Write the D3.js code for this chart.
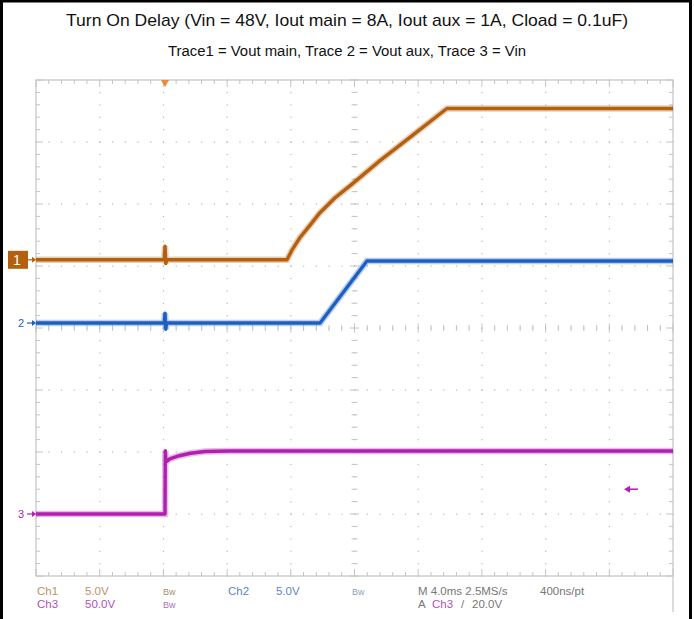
<!DOCTYPE html>
<html lang="en">
<head>
<meta charset="UTF-8">
<title>Turn On Delay</title>
<script src="https://d3js.org/d3.v7.min.js"></script>
<style>
  body { margin: 0; background: #fff; }
  svg { display: block; font-family: "Liberation Sans", Arial, sans-serif; }
  .title { fill: #111; }
  .read { font-family: "Liberation Sans Narrow", "Liberation Sans", Arial, sans-serif; font-size: 11.5px; }
</style>
</head>
<body>
<div id="chart"></div>
<script>
// scope traces as [time ms, volts]; trigger at t = 0
const ch1 = [[-8.1, 0], [-0.05, 0], [0, 1.1], [0.05, -0.3], [0.1, 0], [7.66, 0], [7.98, 0.8], [8.48, 1.8],
             [9.11, 2.8], [9.73, 3.8], [10.68, 5.0], [11.74, 6.1], [13.5, 8.0], [15.4, 9.9], [17.7, 12.2], [31.9, 12.2]];
const ch2 = [[-8.1, 0], [-0.05, 0], [0, 0.8], [0.05, -0.5], [0.1, 0], [9.74, 0], [12.68, 5.0], [31.9, 5.0]];
const ch3 = [[-8.1, 0], [-0.02, 0], [0, 0], [0.02, 51], [0.06, 42], [0.3, 44.5], [0.9, 47], [1.6, 49],
             [2.5, 50.4], [4, 50.8], [31.9, 50.8]];

// channel settings: volts/div, ground offset in divisions, colour
const channels = [
  { id: "1", data: ch1, vdiv: 5, offset: 1.1, color: "#b3600f" },
  { id: "2", data: ch2, vdiv: 5, offset: 0.08, color: "#1d5fc2" },
  { id: "3", data: ch3, vdiv: 50, offset: -3, color: "#b01fb0" }
];
const titleLines = ["Turn On Delay (Vin = 48V, Iout main = 8A, Iout aux = 1A, Cload = 0.1uF)",
                    "Trace1 = Vout main, Trace 2 = Vout aux, Trace 3 = Vin"];
const readoutRow1 = [["Ch1", "#b89464"], ["5.0V", "#b89464"], ["Bw", "#a89070"], ["Ch2", "#5b86c4"], ["5.0V", "#5b86c4"], ["Bw", "#8aa0c0"], ["M 4.0ms 2.5MS/s", "#777"], ["400ns/pt", "#777"]];
const readoutRow2 = [["Ch3", "#b050b8"], ["50.0V", "#b050b8"], ["Bw", "#b070b8"], ["A", "#777"], ["Ch3", "#b050b8"], ["/", "#777"], ["20.0V", "#777"]];
const trigLevel = 20; // volts on ch3

const W = 694, H = 619;
const gL = 36, gR = 673, gT = 80, gB = 576;
const timeDiv = 4, trigDiv = 2.025;

const x = d3.scaleLinear().domain([-trigDiv * timeDiv, (10 - trigDiv) * timeDiv]).range([gL, gR]);
const yDiv = d3.scaleLinear().domain([-4, 4]).range([gB, gT]);

const svg = d3.select("#chart").append("svg").attr("width", W).attr("height", H);

// outer frame
svg.append("rect").attr("x", 1.5).attr("y", 1).attr("width", 689).attr("height", H + 5)
  .attr("fill", "none").attr("stroke", "#000").attr("stroke-width", 3);

// titles (widths)
const titleSize = [17, 15.5], titleWidth = [562, 358];
svg.selectAll(".title").data(titleLines).join("text")
  .attr("class", "title")
  .attr("x", 347).attr("y", (d, i) => 26 + i * 30)
  .attr("text-anchor", "middle")
  .style("font-size", (d, i) => titleSize[i] + "px")
  .attr("textLength", (d, i) => titleWidth[i])
  .attr("lengthAdjust", "spacingAndGlyphs")
  .text(d => d);

// graticule
const g = svg.append("g");
const gridColor = "#c4c4c4";
const xDivs = d3.range(0, 11).map(i => x.domain()[0] + i * timeDiv);
const yDivs = d3.range(-4, 5);
const xMinor = d3.range(0, 51).map(i => x.domain()[0] + i * timeDiv / 5);
const yMinor = d3.range(0, 41).map(i => -4 + i / 5);

// dotted grid
xDivs.slice(1, -1).forEach(t => {
  g.selectAll(null).data(yMinor).join("rect")
    .attr("x", x(t) - 0.5).attr("y", d => yDiv(d) - 0.5).attr("width", 1.2).attr("height", 1.2)
    .attr("fill", "#b8b8b8");
});
yDivs.slice(1, -1).forEach(v => {
  g.selectAll(null).data(xMinor).join("rect")
    .attr("x", d => x(d) - 0.5).attr("y", yDiv(v) - 0.5).attr("width", 1.2).attr("height", 1.2)
    .attr("fill", "#b8b8b8");
});

// border and centre axes
g.append("rect").attr("x", gL).attr("y", gT).attr("width", gR - gL).attr("height", gB - gT)
  .attr("fill", "none").attr("stroke", gridColor).attr("stroke-width", 1.2);
g.append("line").attr("x1", gR).attr("x2", gR).attr("y1", gB).attr("y2", 612)
  .attr("stroke", gridColor).attr("stroke-width", 1.2);
const xc = x((x.domain()[0] + x.domain()[1]) / 2), yc = yDiv(0);

// ruler ticks on border and centre lines
const tickLen = i => (i % 5 === 0 ? 7 : 4);
xMinor.forEach((t, i) => {
  const L = tickLen(i);
  [[gT, 1], [gB, -1]].forEach(([yy, s]) => {
    g.append("line").attr("x1", x(t)).attr("x2", x(t)).attr("y1", yy).attr("y2", yy + s * L).attr("stroke", gridColor);
  });
  g.append("line").attr("x1", x(t)).attr("x2", x(t)).attr("y1", yc - L / 2 - 1).attr("y2", yc + L / 2 + 1).attr("stroke", gridColor);
});
yMinor.forEach((v, i) => {
  const L = tickLen(i);
  [[gL, 1], [gR, -1]].forEach(([xx, s]) => {
    g.append("line").attr("x1", xx).attr("x2", xx + s * L).attr("y1", yDiv(v)).attr("y2", yDiv(v)).attr("stroke", gridColor);
  });
  g.append("line").attr("x1", xc - L / 2 - 1).attr("x2", xc + L / 2 + 1).attr("y1", yDiv(v)).attr("y2", yDiv(v)).attr("stroke", gridColor);
});

// traces
channels.forEach(c => {
  const y = d => yDiv(c.offset + d[1] / c.vdiv);
  const line = d3.line().x(d => x(d[0])).y(y);
  svg.append("path").datum(c.data).attr("d", line)
    .attr("fill", "none").attr("stroke", c.color).attr("stroke-width", 6.5).attr("stroke-opacity", 0.3);
  svg.append("path").datum(c.data).attr("d", line)
    .attr("fill", "none").attr("stroke", c.color).attr("stroke-width", 3.4)
    .attr("stroke-linejoin", "round");
});

// channel ground markers
channels.forEach(c => {
  const yy = yDiv(c.offset);
  const m = svg.append("g").attr("transform", `translate(0,${yy})`);
  if (c.id === "1") {
    m.append("rect").attr("x", 8).attr("y", -9).attr("width", 20).attr("height", 18).attr("fill", c.color);
    m.append("text").attr("x", 17).attr("y", 5).attr("text-anchor", "middle").attr("fill", "#fff")
      .style("font-size", "14px").text(c.id);
  } else {
    m.append("text").attr("x", 21).attr("y", 4).attr("text-anchor", "middle").attr("fill", c.color)
      .style("font-size", "11px").text(c.id);
  }
  m.append("line").attr("x1", 27).attr("x2", gL - 1).attr("y1", 0).attr("y2", 0).attr("stroke", c.color).attr("stroke-width", 1.2);
  m.append("path").attr("d", `M${gL - 4},-3L${gL},0L${gL - 4},3Z`).attr("fill", c.color);
});

// trigger position and level markers
svg.append("path").attr("d", `M${x(0) - 4},${gT}L${x(0) + 4},${gT}L${x(0)},${gT + 7}Z`).attr("fill", "#f08a30");
const ch3c = channels[2];
const ty = yDiv(ch3c.offset + trigLevel / ch3c.vdiv);
svg.append("line").attr("x1", 628).attr("x2", 638).attr("y1", ty).attr("y2", ty).attr("stroke", ch3c.color).attr("stroke-width", 1.5);
svg.append("path").attr("d", `M624,${ty}L630,${ty - 3.5}L630,${ty + 3.5}Z`).attr("fill", ch3c.color);

// readouts
const row1X = [37, 85, 163, 228, 276, 352, 418, 540];
const row2X = [37, 85, 163, 418, 432, 461, 472];
[[readoutRow1, row1X, 595], [readoutRow2, row2X, 608]].forEach(([row, xs, yy]) => {
  svg.selectAll(null).data(row).join("text")
    .attr("class", "read")
    .attr("x", (d, i) => xs[i]).attr("y", yy)
    .attr("fill", d => d[1])
    .style("font-size", d => d[0] === "Bw" ? "9px" : null)
    .text(d => d[0]);
});
</script>
</body>
</html>
